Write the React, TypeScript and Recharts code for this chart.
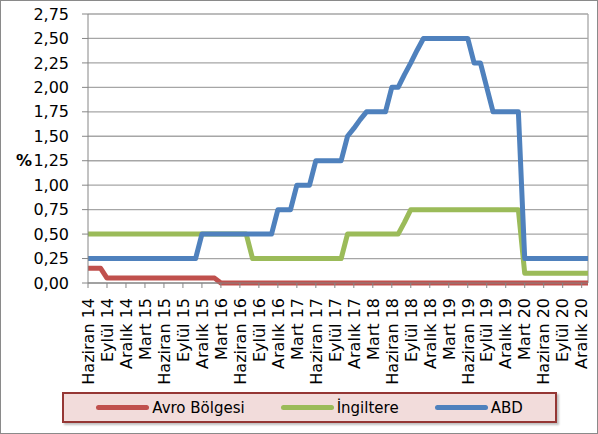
import React from 'react';
import { LineChart, Line, XAxis, YAxis, CartesianGrid, Legend, ReferenceLine } from 'recharts';

const ayAdlari = ['Ocak', 'Şubat', 'Mart', 'Nisan', 'Mayıs', 'Haziran', 'Temmuz', 'Ağustos', 'Eylül', 'Ekim', 'Kasım', 'Aralık'];

// aylık kategoriler: Haziran 14 ... Ocak 21
const aylar: string[] = [];
for (let i = 0; i < 80; i++) {
  const m = (5 + i) % 12;
  const y = 14 + Math.floor((5 + i) / 12);
  aylar.push(`${ayAdlari[m]} ${y}`);
}

const yTicks = [0, 0.25, 0.5, 0.75, 1, 1.25, 1.5, 1.75, 2, 2.25, 2.5, 2.75];

const seriAdlari = ['Avro Bölgesi', 'İngiltere', 'ABD'];

// politika faizleri (%), her satır bir yıl
const avro = [
  0.15, 0.15, 0.15, 0.05, 0.05, 0.05, 0.05,
  0.05, 0.05, 0.05, 0.05, 0.05, 0.05, 0.05, 0.05, 0.05, 0.05, 0.05, 0.05,
  0.05, 0.05, 0, 0, 0, 0, 0, 0, 0, 0, 0, 0,
  0, 0, 0, 0, 0, 0, 0, 0, 0, 0, 0, 0,
  0, 0, 0, 0, 0, 0, 0, 0, 0, 0, 0, 0,
  0, 0, 0, 0, 0, 0, 0, 0, 0, 0, 0, 0,
  0, 0, 0, 0, 0, 0, 0, 0, 0, 0, 0, 0,
  0,
];

const ingiltere = [
  0.5, 0.5, 0.5, 0.5, 0.5, 0.5, 0.5,
  0.5, 0.5, 0.5, 0.5, 0.5, 0.5, 0.5, 0.5, 0.5, 0.5, 0.5, 0.5,
  0.5, 0.5, 0.5, 0.5, 0.5, 0.5, 0.5, 0.25, 0.25, 0.25, 0.25, 0.25,
  0.25, 0.25, 0.25, 0.25, 0.25, 0.25, 0.25, 0.25, 0.25, 0.25, 0.5, 0.5,
  0.5, 0.5, 0.5, 0.5, 0.5, 0.5, 0.5, 0.62, 0.75, 0.75, 0.75, 0.75,
  0.75, 0.75, 0.75, 0.75, 0.75, 0.75, 0.75, 0.75, 0.75, 0.75, 0.75, 0.75,
  0.75, 0.75, 0.1, 0.1, 0.1, 0.1, 0.1, 0.1, 0.1, 0.1, 0.1, 0.1,
  0.1,
];

const abd = [
  0.25, 0.25, 0.25, 0.25, 0.25, 0.25, 0.25,
  0.25, 0.25, 0.25, 0.25, 0.25, 0.25, 0.25, 0.25, 0.25, 0.25, 0.25, 0.5,
  0.5, 0.5, 0.5, 0.5, 0.5, 0.5, 0.5, 0.5, 0.5, 0.5, 0.5, 0.75,
  0.75, 0.75, 1, 1, 1, 1.25, 1.25, 1.25, 1.25, 1.25, 1.5, 1.58,
  1.67, 1.75, 1.75, 1.75, 1.75, 2, 2, 2.13, 2.25, 2.38, 2.5, 2.5,
  2.5, 2.5, 2.5, 2.5, 2.5, 2.5, 2.25, 2.25, 2, 1.75, 1.75, 1.75,
  1.75, 1.75, 0.25, 0.25, 0.25, 0.25, 0.25, 0.25, 0.25, 0.25, 0.25, 0.25,
  0.25,
];

const data = aylar.map((ay, i) => ({ ay, avro: avro[i], ingiltere: ingiltere[i], abd: abd[i] }));

const font = '"DejaVu Sans", sans-serif';

const XTick = (props: any) => {
  const { x, y, payload } = props;
  return (
    <g transform={`translate(${x},${y + 8})`}>
      <text transform="rotate(-90)" textAnchor="end" dy="0.36em" fontSize={16} fill="#000" fontFamily={font}>
        {payload.value}
      </text>
    </g>
  );
};

const LegendBox = (props: any) => {
  const items = [...(props.payload || [])].sort(
    (a: any, b: any) => seriAdlari.indexOf(a.value) - seriAdlari.indexOf(b.value),
  );
  return (
    <div
      style={{
        boxSizing: 'border-box',
        height: 31,
        border: '2px solid #953735',
        background: '#F2DCDB',
        display: 'flex',
        alignItems: 'center',
        justifyContent: 'center',
        gap: 36,
        fontFamily: font,
        fontSize: 15,
        color: '#000',
        boxShadow: '2px 2px 2px rgba(0,0,0,0.25)',
      }}
    >
      {items.map((p: any) => (
        <div key={p.value} style={{ display: 'flex', alignItems: 'center' }}>
          <span style={{ display: 'inline-block', width: 53, height: 5, borderRadius: 3, background: p.color }} />
          <span style={{ marginLeft: 3 }}>{p.value}</span>
        </div>
      ))}
    </div>
  );
};

export default function App() {
  return (
    <div style={{ position: 'relative', width: 598, height: 434, background: '#fff', fontFamily: font }}>
      <style>{'body{margin:0}'}</style>
      <LineChart width={598} height={434} data={data} margin={{ top: 14, right: 10, left: 0, bottom: 0 }}>
        <CartesianGrid vertical={false} stroke="#a6a6a6" strokeWidth={1.3} />
        <XAxis
          dataKey="ay"
          interval={2}
          height={151}
          tick={<XTick />}
          tickSize={5}
          stroke="#868686"
        />
        <YAxis
          domain={[0, 2.75]}
          ticks={yTicks}
          width={88}
          tickSize={6}
          tickMargin={13}
          stroke="#868686"
          tick={{ fill: '#000', fontSize: 16, fontFamily: font }}
          tickFormatter={(v: number) => v.toFixed(2).replace('.', ',')}
          label={{ value: '%', position: 'insideLeft', offset: 16, dy: 12, fill: '#000', fontSize: 16, fontWeight: 'bold', fontFamily: font }}
        />
        <ReferenceLine x={aylar[aylar.length - 1]} stroke="#a6a6a6" strokeWidth={1.3} />
        <Legend
          layout="horizontal"
          verticalAlign="middle"
          align="center"
          wrapperStyle={{ left: 62, top: 392, width: 495, height: 31 }}
          content={<LegendBox />}
        />
        <Line dataKey="avro" name="Avro Bölgesi" stroke="#C0504D" strokeWidth={5} strokeLinejoin="round" dot={false} isAnimationActive={false} />
        <Line dataKey="ingiltere" name="İngiltere" stroke="#9BBB59" strokeWidth={5} strokeLinejoin="round" dot={false} isAnimationActive={false} />
        <Line dataKey="abd" name="ABD" stroke="#4F81BD" strokeWidth={5} strokeLinejoin="round" dot={false} isAnimationActive={false} />
      </LineChart>
      <div style={{ position: 'absolute', inset: 0, border: '1.5px solid #8a8a8a', pointerEvents: 'none' }} />
    </div>
  );
}
